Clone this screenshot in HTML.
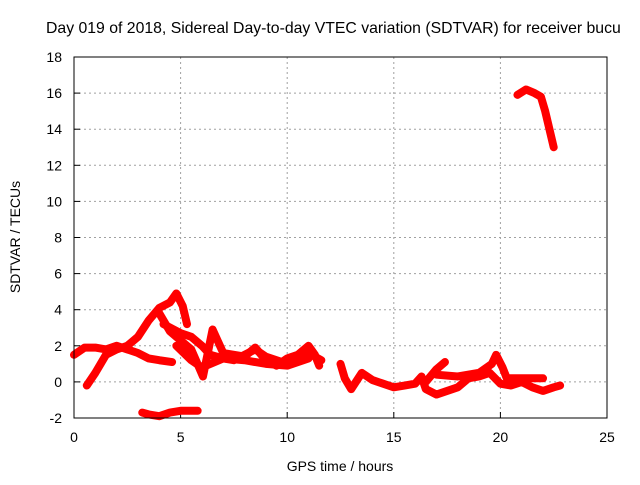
<!DOCTYPE html>
<html><head><meta charset="utf-8"><style>
body{margin:0;background:#fff;}
svg text{font-family:"Liberation Sans",sans-serif;font-size:14px;fill:#000;}
</style></head><body>
<svg id="chart" width="640" height="480" xmlns="http://www.w3.org/2000/svg">
<text x="46" y="33" style="font-size:15.8px">Day 019 of 2018, Sidereal Day-to-day VTEC variation (SDTVAR) for receiver bucu</text>
<text x="340" y="471" text-anchor="middle">GPS time / hours</text>
<text transform="translate(20,237) rotate(-90)" text-anchor="middle">SDTVAR / TECUs</text>
<g id="grid"></g>
<g id="series"></g>
<rect x="74" y="57" width="533" height="361" fill="none" stroke="#000" stroke-width="1"/>
</svg>
<script>
const xTicks=[0,5,10,15,20,25];
const yTicks=[-2,0,2,4,6,8,10,12,14,16,18];
const traceA=[[0,1.5],[0.5,1.9],[1,1.9],[1.5,1.8],[2,2.0],[2.5,1.8],[3,1.6],[3.5,1.3],[4,1.2],[4.6,1.1]];
const traceB=[[0.6,-0.2],[1,0.5],[1.5,1.5],[2,1.8],[2.5,2.0],[3,2.5],[3.5,3.4],[4,4.1],[4.5,4.4],[4.8,4.9],[5.1,4.2],[5.3,3.2]];
const traceC=[[4,3.8],[4.5,2.8],[5,2.3],[5.5,1.8],[6.05,0.3],[6.5,2.9],[7,1.6],[7.5,1.5],[8,1.4],[8.5,1.9],[9,1.2],[9.5,0.9],[10,1.3],[10.5,1.5],[11,2.0],[11.3,1.5],[11.5,0.9]];
const traceD=[[4.2,3.2],[5,2.7],[5.5,2.5],[6,2.0],[6.4,1.5],[7,1.3],[7.5,1.2],[8,1.5],[8.5,1.8],[9,1.4],[10,1.0],[11,1.6],[11.6,1.2]];
const traceE=[[4.8,2.0],[5.5,1.2],[6,0.8],[7,1.3],[8,1.2],[9,1.0],[10,0.9],[11,1.3]];
const traceF=[[3.2,-1.7],[3.5,-1.8],[4,-1.9],[4.5,-1.7],[5,-1.6],[5.8,-1.6]];
const traceG=[[12.5,1.0],[12.7,0.2],[13,-0.4],[13.5,0.5],[14,0.1],[14.5,-0.1],[15,-0.3],[15.5,-0.2],[16,-0.1],[16.3,0.3],[16.5,-0.4],[17,-0.7],[17.5,-0.5],[18,-0.3],[18.5,0.2],[19,0.3],[19.5,0.5],[20,-0.1],[20.5,-0.2],[21,0],[21.5,-0.3],[22,-0.5],[22.5,-0.3],[22.8,-0.2]];
const traceH=[[16.5,0],[17,0.7],[17.4,1.1]];
const traceI=[[17,0.4],[18,0.3],[19,0.5],[19.6,1.0],[19.8,1.5],[20.1,0.8],[20.3,0.2],[21,0.2],[22,0.2]];
const traceJ=[[20.8,15.9],[21.2,16.2],[21.6,16.0],[21.9,15.8],[22.1,15.0],[22.3,14.0],[22.5,13.0]];
const traces=[traceA,traceB,traceC,traceD,traceE,traceF,traceG,traceH,traceI,traceJ];
const X0=74,X1=607,Y0=418,Y1=57,xmin=0,xmax=25,ymin=-2,ymax=18;
const sx=v=>X0+(v-xmin)/(xmax-xmin)*(X1-X0);
const sy=v=>Y0-(v-ymin)/(ymax-ymin)*(Y0-Y1);
const NS='http://www.w3.org/2000/svg';
const grid=document.getElementById('grid');
const svg=document.getElementById('chart');
function mk(tag,attrs,parent){const e=document.createElementNS(NS,tag);for(const k in attrs)e.setAttribute(k,attrs[k]);parent.appendChild(e);return e;}
xTicks.forEach(t=>{const x=sx(t);
 if(t>xmin&&t<xmax){const g=mk('line',{x1:x,x2:x,y1:Y1,y2:Y0,stroke:'#a0a0a0','stroke-dasharray':'2,3'},grid);}
 const tk=mk('line',{x1:x,x2:x,y1:Y0,y2:Y0-6,stroke:'#000'},grid);
 const tx=mk('text',{x:x,y:Y0+24,'text-anchor':'middle'},svg);tx.textContent=t;});
yTicks.forEach(t=>{const y=sy(t);
 if(t>ymin&&t<ymax){const g=mk('line',{x1:X0,x2:X1,y1:y,y2:y,stroke:'#a0a0a0','stroke-dasharray':'2,3'},grid);}
 const tk=mk('line',{x1:X0,x2:X0+6,y1:y,y2:y,stroke:'#000'},grid);
 const tx=mk('text',{x:X0-12,y:y+5,'text-anchor':'end'},svg);tx.textContent=t;});
const ser=document.getElementById('series');
traces.forEach(tr=>{const p=mk('polyline',{points:tr.map(d=>sx(d[0])+','+sy(d[1])).join(' '),fill:'none',stroke:'#ff0000','stroke-width':8,'stroke-linejoin':'round','stroke-linecap':'round'},ser);
 
 });
</script>
</body></html>
